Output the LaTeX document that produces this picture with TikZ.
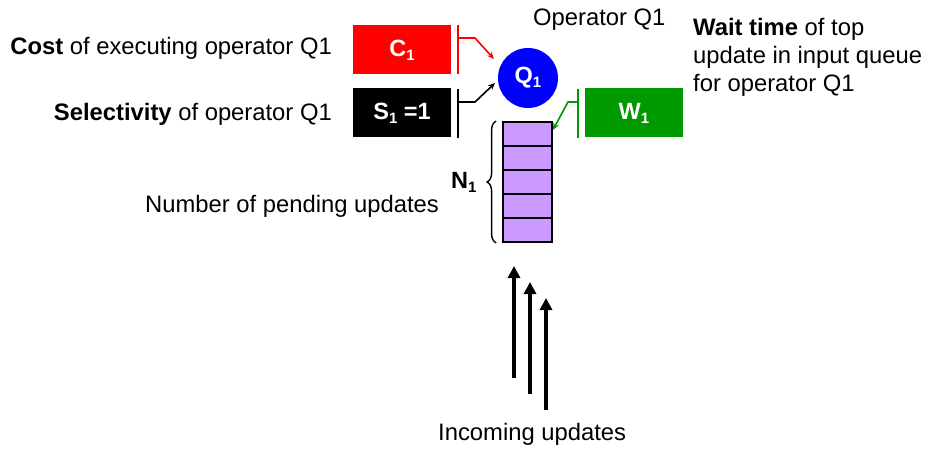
\documentclass[tikz,border=0pt]{standalone}
\usepackage{fontspec}
\setmainfont{Liberation Sans}
\usetikzlibrary{arrows.meta,decorations.pathreplacing}
\definecolor{opred}{HTML}{FF0000}
\definecolor{opgreen}{HTML}{009900}
\definecolor{opblue}{HTML}{0000FF}
\definecolor{queuefill}{HTML}{CC99FF}
\newcommand{\lowsub}[1]{\raisebox{-4pt}{\fontsize{15}{15}\selectfont #1}}
\tikzset{
  txt/.style={inner sep=0pt, font=\fontsize{23.8}{28}\selectfont},
  statbox/.style={minimum width=98pt, minimum height=49pt, inner sep=0pt,
    text=white, font=\fontsize{23.5}{26}\selectfont\bfseries},
  link/.style={line width=1.6pt},
  linktip/.style={-{Stealth[length=7pt,width=6pt]}},
  cell/.style={draw=black, line width=1.8pt, fill=queuefill, minimum width=49pt,
    minimum height=24pt, inner sep=0pt},
  feed/.style={line width=4pt, -{Triangle[length=12pt,width=12pt]}},
}
\begin{document}
\begin{tikzpicture}[x=1pt,y=-1pt]
\useasboundingbox (0,0) rectangle (926,449);

% operator and its statistics boxes
\node[circle, fill=opblue, minimum size=60pt, inner sep=0pt, text=white,
  font=\fontsize{23.5}{26}\selectfont\bfseries] (q) at (528,78) {Q\lowsub{1}};
\node[statbox, fill=opred] (c) at (402,50) {C\lowsub{1}};
\node[statbox, fill=black] (s) at (402,113) {S\lowsub{1} =1};
\node[statbox, fill=opgreen] (w) at (634,113) {W\lowsub{1}};

% input queue
\foreach \i in {1,...,5}
  \node[cell] (cell\i) at (527.5,{122+24*(\i-0.5)}) {};

% bracket ends of the connectors
\coordinate (cbar) at (458,38);
\coordinate (sbar) at (458,102);
\coordinate (wbar) at (578,102);
\draw[link, opred] (458,25) -- (458,74);
\draw[link, black] (458,89) -- (458,138);
\draw[link, opgreen] (578,89) -- (578,138);

\draw[link, linktip, opred] (cbar) -- (475,38) -- (494,59);
\draw[link, linktip, black] (sbar) -- (475,102) -- (495,83);
\draw[link, linktip, opgreen] (wbar) -- (568,102) -- (cell1.north east |- 0,130);

% brace for the queue length
\draw[line width=1.4pt, decorate, decoration={brace, amplitude=9pt}]
  (cell5.south west) ++(-6,0) coordinate (bb) -- (cell1.north west -| bb) coordinate (bt);
\node[txt, font=\fontsize{23.5}{26}\selectfont\bfseries, anchor=base west] (n) at (451,189) {N\lowsub{1}};

% incoming updates
\coordinate (f1) at (514,378);
\coordinate (f2) at (530,394);
\coordinate (f3) at (546,410);
\draw[feed] (f1) -- (514,266);
\draw[feed] (f2) -- (530,282);
\draw[feed] (f3) -- (546,298);

% labels
\node[txt, anchor=base west] (opname) at (533,26) {Operator Q1};
\node[txt, anchor=base east] (costlbl) at (332,55) {\textbf{Cost} of executing operator Q1};
\node[txt, anchor=base east] (sellbl) at (332,121) {\textbf{Selectivity} of operator Q1};
\node[txt, anchor=base west, align=left] (waitlbl) at (693,92)
  {\textbf{Wait time} of top\\update in input queue\\for operator Q1};
\node[txt, anchor=base west] (pendlbl) at (145,212) {Number of pending updates};
\node[txt, anchor=base west] (inlbl) at (438,440) {Incoming updates};
\end{tikzpicture}
\end{document}
